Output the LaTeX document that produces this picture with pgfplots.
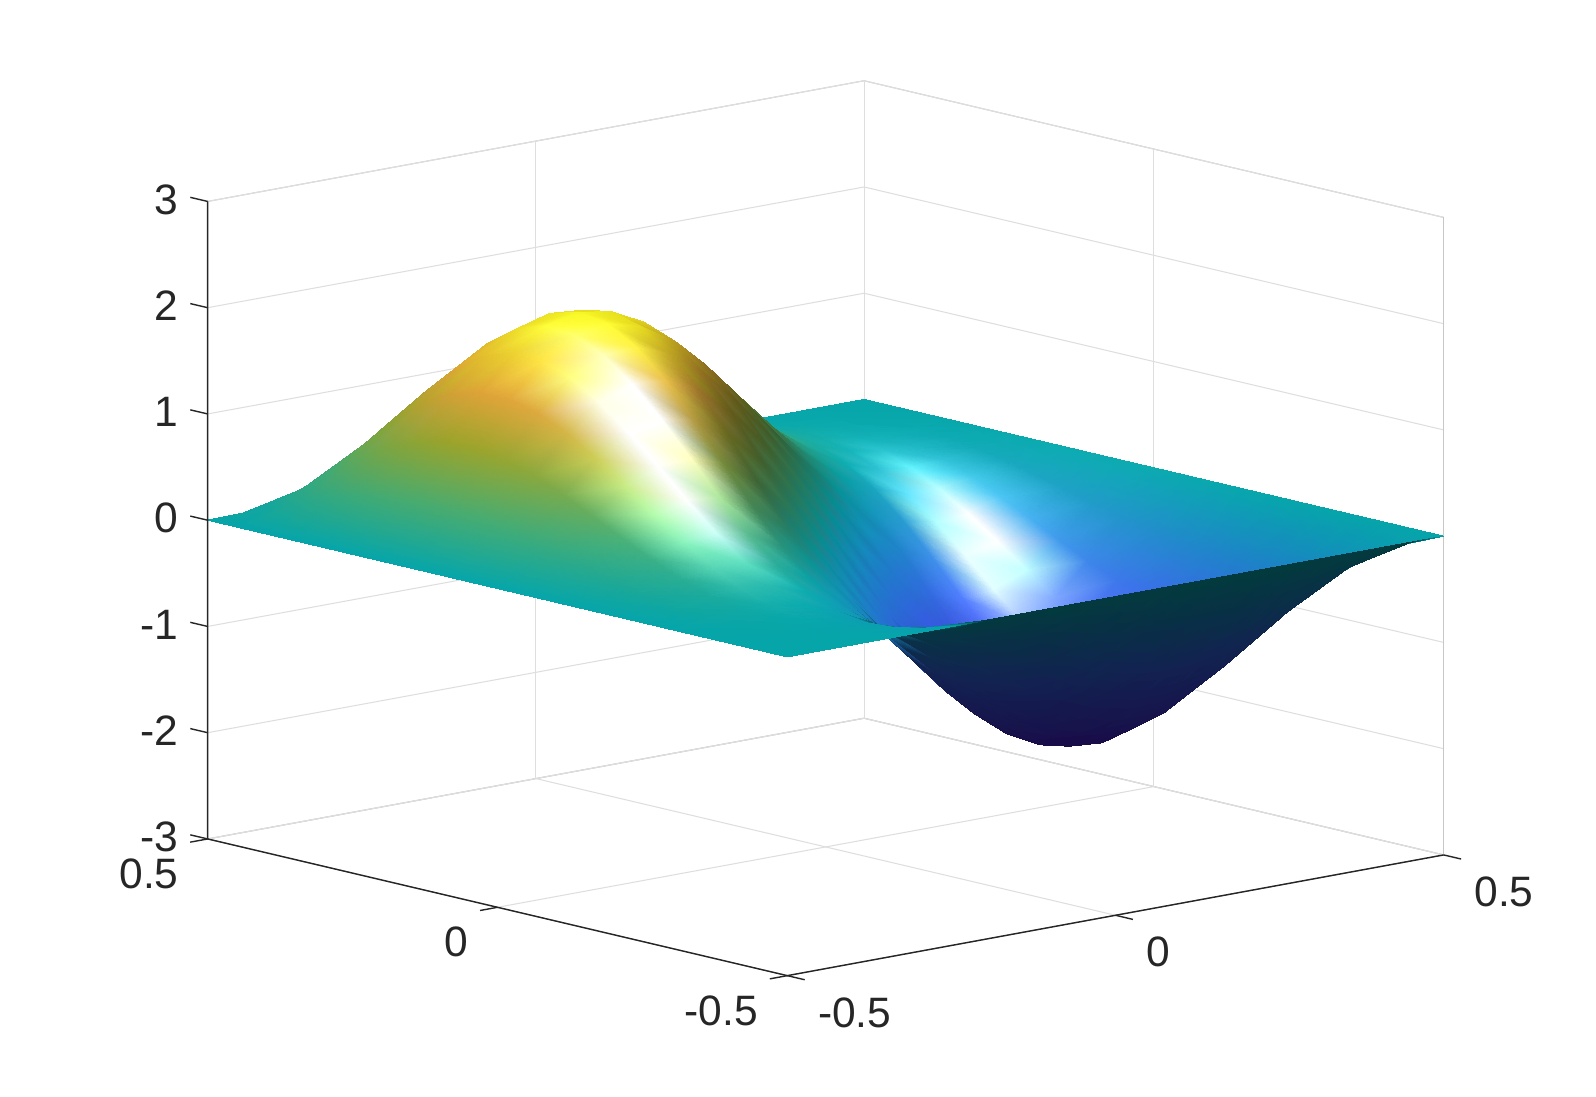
\documentclass[border=0pt]{standalone}
\usepackage{fontspec}
\setmainfont{Liberation Sans}
\usepackage{pgfplots}
\usepackage{pgfplotstable}
\pgfplotsset{compat=1.18}
\definecolor{axdark}{rgb}{0.15,0.15,0.15}
\pgfplotsset{/pgf/declare function={
    ramp(\a)=(\a>0 ? \a : 0);
    clampc(\a)=(\a<0 ? 0 : (\a>1 ? 1 : \a));
    sq(\a)=\a*\a;
    zx(\x,\y)=1.3*(-pi*sin(180*\x)*sin(360*\y)-2*pi*cos(360*\x)*cos(180*\y));
    zy(\x,\y)=1.3*(2*pi*cos(180*\x)*cos(360*\y)+pi*sin(360*\x)*sin(180*\y));
    face(\x,\y)=.57*zx(\x,\y)+.644*zy(\x,\y)+1.51;
    side(\x,\y)=.749*zx(\x,\y)-.663*zy(\x,\y);
    lit(\x,\y)=1-.45*clampc((-side(\x,\y)-4)/5)*clampc((\y-\x+.05)/.15);
    under(\x,\y,\z)=((face(\x,\y)<0)||(\z+2.344*\y+1.172<-.5) ? .36 : lit(\x,\y));
    shade(\x,\y,\z)=(\y>=\x ? lit(\x,\y) : under(\x,\y,\z));
    spec(\x,\y)=1.25*exp(-sq((\x+.285-.2*(\y+.02))/.047)-sq((\y+.02)/.14))
      +.06*exp(-sq((\x+.27)/.13)-sq((\y-.02)/.25))
      +1.0*exp(-sq((\x-.33-.15*(\y-.115))/.047)-sq((\y-.115)/.12))
      +.1*exp(-sq((\x-.36)/.12)-sq((\y-.1)/.25));
    baseR(\z)=(70-20*(\z+2)-30*ramp(\z+1)+10*ramp(\z+.5)+170*ramp(\z)+30*ramp(\z-.5)+2.5*ramp(\z-1)-140.8*ramp(\z-1.4))/255;
    baseG(\z)=(30+65*(\z+2)+5*ramp(\z+1)-60*ramp(\z)-30*ramp(\z-.5)+7.5*ramp(\z-1)+134.2*ramp(\z-1.4))/255;
    baseB(\z)=(200+25*(\z+2)-85*ramp(\z+1)+10*ramp(\z+.5)-70*ramp(\z)-20*ramp(\z-.5)+165*ramp(\z-1)-75*ramp(\z-1.4))/255;
}}
\pgfplotstableread{
x y z
-.5 -.5 0
-.45 -.5 0
-.4 -.5 0
-.35 -.5 0
-.3 -.5 0
-.25 -.5 0
-.2 -.5 0
-.15 -.5 0
-.1 -.5 0
-.05 -.5 0
0 -.5 0
.05 -.5 0
.1 -.5 0
.15 -.5 0
.2 -.5 0
.25 -.5 0
.3 -.5 0
.35 -.5 0
.4 -.5 0
.45 -.5 0
.5 -.5 0
-.5 -.45 0
-.45 -.45 0
-.4 -.45 -.005
-.35 -.45 -.018
-.3 -.45 -.043
-.25 -.45 -.081
-.2 -.45 -.132
-.15 -.45 -.194
-.1 -.45 -.263
-.05 -.45 -.334
0 -.45 -.402
.05 -.45 -.460
.1 -.45 -.501
.15 -.45 -.522
.2 -.45 -.518
.25 -.45 -.487
.3 -.45 -.429
.35 -.45 -.346
.4 -.45 -.243
.45 -.45 -.126
.5 -.45 0
-.5 -.4 0
-.45 -.4 .005
-.4 -.4 0
-.35 -.4 -.022
-.3 -.4 -.067
-.25 -.4 -.138
-.2 -.4 -.236
-.15 -.4 -.356
-.1 -.4 -.491
-.05 -.4 -.631
0 -.4 -.764
.05 -.4 -.879
.1 -.4 -.963
.15 -.4 -1.006
.2 -.4 -1.000
.25 -.4 -.942
.3 -.4 -.831
.35 -.4 -.672
.4 -.4 -.472
.45 -.4 -.243
.5 -.4 0
-.5 -.35 0
-.45 -.35 .018
-.4 -.35 .022
-.35 -.35 0
-.3 -.35 -.057
-.25 -.35 -.153
-.2 -.35 -.290
-.15 -.35 -.460
-.1 -.35 -.653
-.05 -.35 -.857
0 -.35 -1.052
.05 -.35 -1.221
.1 -.35 -1.347
.15 -.35 -1.414
.2 -.35 -1.412
.25 -.35 -1.333
.3 -.35 -1.179
.35 -.35 -.954
.4 -.35 -.672
.45 -.35 -.346
.5 -.35 0
-.5 -.3 0
-.45 -.3 .043
-.4 -.3 .067
-.35 -.3 .057
-.3 -.3 0
-.25 -.3 -.110
-.2 -.3 -.273
-.15 -.3 -.483
-.1 -.3 -.727
-.05 -.3 -.985
0 -.3 -1.236
.05 -.3 -1.457
.1 -.3 -1.625
.15 -.3 -1.719
.2 -.3 -1.727
.25 -.3 -1.638
.3 -.3 -1.454
.35 -.3 -1.179
.4 -.3 -.831
.45 -.3 -.429
.5 -.3 0
-.5 -.25 0
-.45 -.25 .081
-.4 -.25 .138
-.35 -.25 .153
-.3 -.25 .110
-.25 -.25 0
-.2 -.25 -.178
-.15 -.25 -.415
-.1 -.25 -.696
-.05 -.25 -1.000
0 -.25 -1.300
.05 -.25 -1.568
.1 -.25 -1.776
.15 -.25 -1.901
.2 -.25 -1.926
.25 -.25 -1.838
.3 -.25 -1.638
.35 -.25 -1.333
.4 -.25 -.942
.45 -.25 -.487
.5 -.25 0
-.5 -.2 0
-.45 -.2 .132
-.4 -.2 .236
-.35 -.2 .290
-.3 -.2 .273
-.25 -.2 .178
-.2 -.2 0
-.15 -.2 -.250
-.1 -.2 -.558
-.05 -.2 -.896
0 -.2 -1.236
.05 -.2 -1.546
.1 -.2 -1.794
.15 -.2 -1.952
.2 -.2 -2.000
.25 -.2 -1.926
.3 -.2 -1.727
.35 -.2 -1.412
.4 -.2 -1.000
.45 -.2 -.518
.5 -.2 0
-.5 -.15 0
-.45 -.15 .194
-.4 -.15 .356
-.35 -.15 .460
-.3 -.15 .483
-.25 -.15 .415
-.2 -.15 .250
-.15 -.15 0
-.1 -.15 -.319
-.05 -.15 -.681
0 -.15 -1.052
.05 -.15 -1.397
.1 -.15 -1.681
.15 -.15 -1.874
.2 -.15 -1.952
.25 -.15 -1.901
.3 -.15 -1.719
.35 -.15 -1.414
.4 -.15 -1.006
.45 -.15 -.522
.5 -.15 0
-.5 -.1 0
-.45 -.1 .263
-.4 -.1 .491
-.35 -.1 .653
-.3 -.1 .727
-.25 -.1 .696
-.2 -.1 .558
-.15 -.1 .319
-.1 -.1 0
-.05 -.1 -.373
0 -.1 -.764
.05 -.1 -1.137
.1 -.1 -1.454
.15 -.1 -1.681
.2 -.1 -1.794
.25 -.1 -1.776
.3 -.1 -1.625
.35 -.1 -1.347
.4 -.1 -.963
.45 -.1 -.501
.5 -.1 0
-.5 -.05 0
-.45 -.05 .334
-.4 -.05 .631
-.35 -.05 .857
-.3 -.05 .985
-.25 -.05 1.000
-.2 -.05 .896
-.15 -.05 .681
-.1 -.05 .373
-.05 -.05 0
0 -.05 -.402
.05 -.05 -.794
.1 -.05 -1.137
.15 -.05 -1.397
.2 -.05 -1.546
.25 -.05 -1.568
.3 -.05 -1.457
.35 -.05 -1.221
.4 -.05 -.879
.45 -.05 -.460
.5 -.05 0
-.5 0 0
-.45 0 .402
-.4 0 .764
-.35 0 1.052
-.3 0 1.236
-.25 0 1.300
-.2 0 1.236
-.15 0 1.052
-.1 0 .764
-.05 0 .402
0 0 0
.05 0 -.402
.1 0 -.764
.15 0 -1.052
.2 0 -1.236
.25 0 -1.300
.3 0 -1.236
.35 0 -1.052
.4 0 -.764
.45 0 -.402
.5 0 0
-.5 .05 0
-.45 .05 .460
-.4 .05 .879
-.35 .05 1.221
-.3 .05 1.457
-.25 .05 1.568
-.2 .05 1.546
-.15 .05 1.397
-.1 .05 1.137
-.05 .05 .794
0 .05 .402
.05 .05 0
.1 .05 -.373
.15 .05 -.681
.2 .05 -.896
.25 .05 -1.000
.3 .05 -.985
.35 .05 -.857
.4 .05 -.631
.45 .05 -.334
.5 .05 0
-.5 .1 0
-.45 .1 .501
-.4 .1 .963
-.35 .1 1.347
-.3 .1 1.625
-.25 .1 1.776
-.2 .1 1.794
-.15 .1 1.681
-.1 .1 1.454
-.05 .1 1.137
0 .1 .764
.05 .1 .373
.1 .1 0
.15 .1 -.319
.2 .1 -.558
.25 .1 -.696
.3 .1 -.727
.35 .1 -.653
.4 .1 -.491
.45 .1 -.263
.5 .1 0
-.5 .15 0
-.45 .15 .522
-.4 .15 1.006
-.35 .15 1.414
-.3 .15 1.719
-.25 .15 1.901
-.2 .15 1.952
-.15 .15 1.874
-.1 .15 1.681
-.05 .15 1.397
0 .15 1.052
.05 .15 .681
.1 .15 .319
.15 .15 0
.2 .15 -.250
.25 .15 -.415
.3 .15 -.483
.35 .15 -.460
.4 .15 -.356
.45 .15 -.194
.5 .15 0
-.5 .2 0
-.45 .2 .518
-.4 .2 1.000
-.35 .2 1.412
-.3 .2 1.727
-.25 .2 1.926
-.2 .2 2.000
-.15 .2 1.952
-.1 .2 1.794
-.05 .2 1.546
0 .2 1.236
.05 .2 .896
.1 .2 .558
.15 .2 .250
.2 .2 0
.25 .2 -.178
.3 .2 -.273
.35 .2 -.290
.4 .2 -.236
.45 .2 -.132
.5 .2 0
-.5 .25 0
-.45 .25 .487
-.4 .25 .942
-.35 .25 1.333
-.3 .25 1.638
-.25 .25 1.838
-.2 .25 1.926
-.15 .25 1.901
-.1 .25 1.776
-.05 .25 1.568
0 .25 1.300
.05 .25 1.000
.1 .25 .696
.15 .25 .415
.2 .25 .178
.25 .25 0
.3 .25 -.110
.35 .25 -.153
.4 .25 -.138
.45 .25 -.081
.5 .25 0
-.5 .3 0
-.45 .3 .429
-.4 .3 .831
-.35 .3 1.179
-.3 .3 1.454
-.25 .3 1.638
-.2 .3 1.727
-.15 .3 1.719
-.1 .3 1.625
-.05 .3 1.457
0 .3 1.236
.05 .3 .985
.1 .3 .727
.15 .3 .483
.2 .3 .273
.25 .3 .110
.3 .3 0
.35 .3 -.057
.4 .3 -.067
.45 .3 -.043
.5 .3 0
-.5 .35 0
-.45 .35 .346
-.4 .35 .672
-.35 .35 .954
-.3 .35 1.179
-.25 .35 1.333
-.2 .35 1.412
-.15 .35 1.414
-.1 .35 1.347
-.05 .35 1.221
0 .35 1.052
.05 .35 .857
.1 .35 .653
.15 .35 .460
.2 .35 .290
.25 .35 .153
.3 .35 .057
.35 .35 0
.4 .35 -.022
.45 .35 -.018
.5 .35 0
-.5 .4 0
-.45 .4 .243
-.4 .4 .472
-.35 .4 .672
-.3 .4 .831
-.25 .4 .942
-.2 .4 1.000
-.15 .4 1.006
-.1 .4 .963
-.05 .4 .879
0 .4 .764
.05 .4 .631
.1 .4 .491
.15 .4 .356
.2 .4 .236
.25 .4 .138
.3 .4 .067
.35 .4 .022
.4 .4 0
.45 .4 -.005
.5 .4 0
-.5 .45 0
-.45 .45 .126
-.4 .45 .243
-.35 .45 .346
-.3 .45 .429
-.25 .45 .487
-.2 .45 .518
-.15 .45 .522
-.1 .45 .501
-.05 .45 .460
0 .45 .402
.05 .45 .334
.1 .45 .263
.15 .45 .194
.2 .45 .132
.25 .45 .081
.3 .45 .043
.35 .45 .018
.4 .45 .005
.45 .45 0
.5 .45 0
-.5 .5 0
-.45 .5 0
-.4 .5 0
-.35 .5 0
-.3 .5 0
-.25 .5 0
-.2 .5 0
-.15 .5 0
-.1 .5 0
-.05 .5 0
0 .5 0
.05 .5 0
.1 .5 0
.15 .5 0
.2 .5 0
.25 .5 0
.3 .5 0
.35 .5 0
.4 .5 0
.45 .5 0
.5 .5 0
}\surfdata
\pgfplotstablecreatecol[create col/expr={shade(\thisrow{x},\thisrow{y},\thisrow{z})}]{shd}\surfdata
\pgfplotstablecreatecol[create col/expr={spec(\thisrow{x},\thisrow{y})}]{spc}\surfdata
\begin{document}
\begin{tikzpicture}[x=1cm,y=1cm]
\path[use as bounding box] (0,0) rectangle (15.96,10.97);
\begin{axis}[
  at={(8.257cm,5.688cm)},anchor=origin,
  x={(6.564cm,1.207cm)},y={(-5.796cm,1.367cm)},z={(0cm,1.0625cm)},
  xmin=-0.5,xmax=0.5,ymin=-0.5,ymax=0.5,zmin=-3,zmax=3,
  xtick={-0.5,0,0.5},ytick={-0.5,0,0.5},ztick={-3,-2,-1,0,1,2,3},
  xticklabels={-0.5,0,0.5},yticklabels={-0.5,0,0.5},zticklabels={-3,-2,-1,0,1,2,3},
  major tick length=0pt,
  grid=major,major grid style={black!13,line width=0.3pt},
  axis line style={black!22,line width=0.3pt},
  tick label style={font=\fontsize{12.1}{14}\selectfont,text=axdark,inner sep=0pt},
  xticklabel style={anchor=north west,xshift=0.30cm,yshift=-0.21cm},
  yticklabel style={anchor=north east,xshift=-0.285cm,yshift=-0.19cm},
  zticklabel style={anchor=east,xshift=-0.29cm,yshift=0.02cm},
  clip=false,
]
\addplot3[surf,shader=interp,mesh/cols=21,
  mesh/color input=explicit mathparse,
  point meta={symbolic={
    1*clampc(baseR(\thisrow{z})*\thisrow{shd}+\thisrow{spc}),
    1*clampc(baseG(\thisrow{z})*\thisrow{shd}+\thisrow{spc}),
    1*clampc(baseB(\thisrow{z})*\thisrow{shd}+\thisrow{spc})
  }}] table[x=x,y=y,z=z] {\surfdata};
\draw[axdark,line width=0.4pt] (axis cs:-0.5,0.5,3) -- (axis cs:-0.5,0.5,-3) -- (axis cs:-0.5,-0.5,-3) -- (axis cs:0.5,-0.5,-3);
\draw[axdark,line width=0.4pt] (axis cs:-0.5,0.5,-3) -- (axis cs:-0.5266,0.5,-3)
  (axis cs:-0.5,0,-3) -- (axis cs:-0.5266,0,-3) (axis cs:-0.5,-0.5,-3) -- (axis cs:-0.5266,-0.5,-3);
\draw[axdark,line width=0.4pt] (axis cs:-0.5,-0.5,-3) -- (axis cs:-0.5,-0.53,-3)
  (axis cs:0,-0.5,-3) -- (axis cs:0,-0.53,-3) (axis cs:0.5,-0.5,-3) -- (axis cs:0.5,-0.53,-3);
\foreach \t in {-3,-2,-1,0,1,2,3}{
  \edef\temp{\noexpand\draw[axdark,line width=0.4pt] (axis cs:-0.5,0.5,\t) -- (axis cs:-0.5,0.53,\t);}\temp}
\end{axis}
\end{tikzpicture}
\end{document}
